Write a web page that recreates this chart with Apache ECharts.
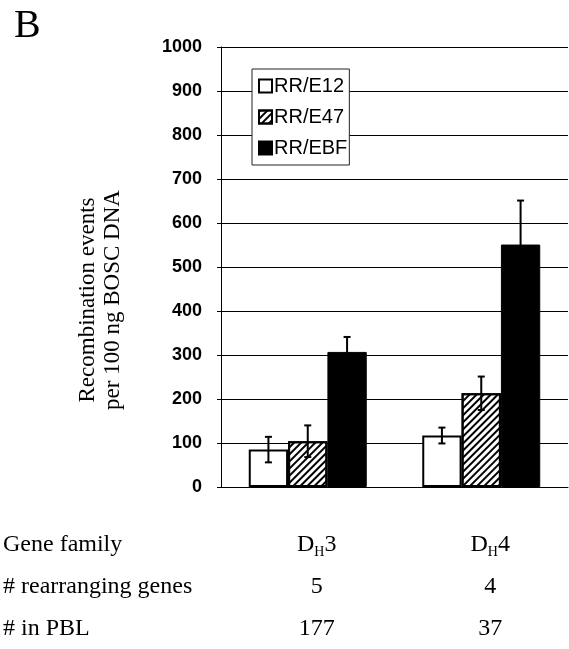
<!DOCTYPE html>
<html><head><meta charset="utf-8">
<script src="https://cdn.jsdelivr.net/npm/echarts@6/dist/echarts.min.js"></script>
<style>html,body{margin:0;padding:0;background:#fff}#c{width:569px;height:649px}</style>
</head><body><div id="c"></div>
<script>
// Data
const categories = ['DH3', 'DH4'];
const familyNum = ['3', '4'];
const seriesNames = ['RR/E12', 'RR/E47', 'RR/EBF'];
const e12 = [85, 117];
const e47 = [104, 213];
const ebf = [307, 551];
const e12Err = [29, 18];
const e47Err = [36, 38];
const ebfErr = [34, 100];
const rearranging = [5, 4];
const inPBL = [177, 37];
const rowLabels = ['Gene family', '# rearranging genes', '# in PBL'];
const yMin = 0, yMax = 1000, yStep = 100;

const values = [e12, e47, ebf];
const errs = [e12Err, e47Err, ebfErr];
const GAP = 0.32;

const errData = [];
values.forEach((arr, s) => arr.forEach((v, c) => errData.push([c, s, v, errs[s][c]])));

const serif = '"Liberation Serif","Times New Roman",serif';
const sans = '"Liberation Sans",Arial,sans-serif';

const chart = echarts.init(document.getElementById('c'), null, {renderer: 'canvas'});
const barBase = {type: 'bar', barGap: '0%', barCategoryGap: (GAP * 100) + '%'};
const TF = 24;

chart.setOption({
  animation: false,
  backgroundColor: '#fff',
  grid: {left: 221, right: 1, top: 47, bottom: 162, containLabel: false},
  legend: {
    data: seriesNames,
    orient: 'vertical',
    left: 252, top: 69,
    padding: [7, 2, 7, 6],
    itemGap: 11,
    itemWidth: 13, itemHeight: 13,
    backgroundColor: '#fff',
    borderColor: '#222', borderWidth: 1,
    icon: 'rect',
    textStyle: {fontFamily: sans, fontSize: 20, color: '#000', padding: [0, 0, 0, -3]}
  },
  xAxis: {
    type: 'category', data: categories,
    axisLine: {show: true, lineStyle: {color: '#000', width: 1}},
    axisTick: {show: false},
    axisLabel: {
      margin: 44,
      padding: [0, 0, 0, 18],
      formatter: (v, i) => '{d|D}{s|H}{d|' + familyNum[i] + '}\n{n2|' + rearranging[i] + '}\n{n3|' + inPBL[i] + '}',
      rich: {
        d: {fontFamily: serif, fontSize: TF, color: '#000', lineHeight: 28},
        s: {fontFamily: serif, fontSize: 14, color: '#000', lineHeight: 28, verticalAlign: 'bottom'},
        n2: {fontFamily: serif, fontSize: TF, color: '#000', lineHeight: 56},
        n3: {fontFamily: serif, fontSize: TF, color: '#000', lineHeight: 28}
      }
    }
  },
  yAxis: {
    type: 'value', min: yMin, max: yMax, interval: yStep,
    axisLine: {show: true, lineStyle: {color: '#000', width: 1}},
    axisTick: {show: true, length: 4, lineStyle: {color: '#000'}},
    axisLabel: {fontFamily: sans, fontSize: 18, fontWeight: 'bold', color: '#000', margin: 19,
      formatter: (v) => String(v)},
    splitLine: {show: true, lineStyle: {color: '#000', width: 1}}
  },
  series: [
    Object.assign({}, barBase, {name: seriesNames[0], data: e12,
      itemStyle: {color: '#fff', borderColor: '#000', borderWidth: 2}}),
    Object.assign({}, barBase, {name: seriesNames[1], data: e47,
      itemStyle: {color: '#fff', borderColor: '#000', borderWidth: 2,
        decal: {symbol: 'rect', symbolSize: 1, dashArrayX: [[1, 0]], dashArrayY: [1.5, 3], rotation: -Math.PI / 4, color: '#000'}}}),
    Object.assign({}, barBase, {name: seriesNames[2], data: ebf,
      itemStyle: {color: '#000', borderColor: '#000', borderWidth: 1}}),
    {
      type: 'custom', name: 'err', z: 10,
      data: errData,
      encode: {x: 0, y: 2},
      renderItem: (params, api) => {
        const c = api.value(0), s = api.value(1), v = api.value(2), e = api.value(3);
        const band = api.size([1, 0])[0];
        const bw = band * (1 - GAP) / 3;
        const center = api.coord([c, v]);
        const x = center[0] + (s - 1) * bw;
        const top = api.coord([c, v + e])[1];
        const bot = api.coord([c, v - e])[1];
        const cap = 3.5;
        const st = {stroke: '#000', lineWidth: 2};
        return {type: 'group', children: [
          {type: 'line', shape: {x1: x, y1: top, x2: x, y2: bot}, style: st},
          {type: 'line', shape: {x1: x - cap, y1: top, x2: x + cap, y2: top}, style: st},
          {type: 'line', shape: {x1: x - cap, y1: bot, x2: x + cap, y2: bot}, style: st}
        ]};
      }
    }
  ],
  graphic: [
    {type: 'text', left: 14, top: 6, style: {text: 'B', fontFamily: serif, fontSize: 40, fill: '#000'}},
    {type: 'text', x: 100, y: 300, rotation: Math.PI / 2, style: {
      text: 'Recombination events\nper 100 ng BOSC DNA', fontFamily: serif, fontSize: 23, fill: '#000',
      align: 'center', verticalAlign: 'middle', lineHeight: 25}},
    {type: 'text', x: 3, y: 545, style: {text: rowLabels[0], fontFamily: serif, fontSize: TF, fill: '#000', verticalAlign: 'middle'}},
    {type: 'text', x: 3, y: 587, style: {text: rowLabels[1], fontFamily: serif, fontSize: TF, fill: '#000', verticalAlign: 'middle'}},
    {type: 'text', x: 3, y: 629, style: {text: rowLabels[2], fontFamily: serif, fontSize: TF, fill: '#000', verticalAlign: 'middle'}}
  ]
});
</script></body></html>
